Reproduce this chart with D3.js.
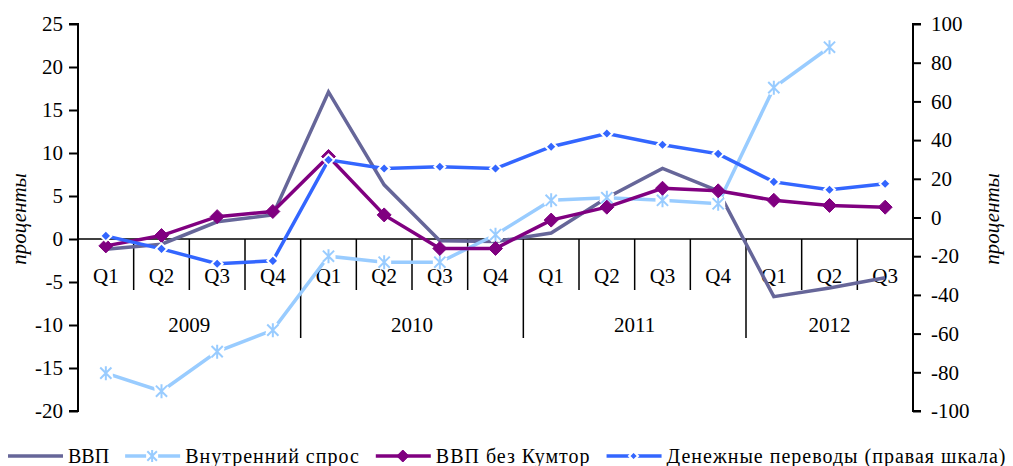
<!DOCTYPE html>
<html>
<head>
<meta charset="utf-8">
<script src="https://cdn.jsdelivr.net/npm/d3@7"></script>
<style>
  body { margin: 0; background: #fff; }
  svg text { font-family: "Liberation Serif", "Times New Roman", serif; fill: #000; }
</style>
</head>
<body>
<div id="chart"></div>
<script>
// quarters and years along the category axis
var quarters = ["Q1","Q2","Q3","Q4","Q1","Q2","Q3","Q4","Q1","Q2","Q3","Q4","Q1","Q2","Q3"]
var years = ["2009","2010","2011","2012"]
var yearSpans = [4, 4, 4, 3]

// series (null = no value)
var gdp = [-1.2, -0.6, 2.0, 2.8, 17.1, 6.3, -0.2, -0.3, 0.7, 4.8, 8.2, 5.6, -6.7, -5.7, -4.5]
var domesticDemand = [-15.6, -17.7, -13.1, -10.6, -2.0, -2.7, -2.7, 0.5, 4.5, 4.8, 4.5, 4.1, 17.6, 22.3, null]
var gdpNoKumtor = [-0.8, 0.4, 2.6, 3.2, 9.6, 2.8, -1.1, -1.1, 2.2, 3.7, 5.9, 5.6, 4.5, 3.9, 3.7]
var remittances = [-9.5, -16.2, -23.9, -22.4, 29.8, 25.3, 26.2, 25.3, 36.6, 43.4, 37.6, 32.9, 18.4, 14.3, 17.4]

var leftTicks = [25, 20, 15, 10, 5, 0, -5, -10, -15, -20]
var rightTicks = [100, 80, 60, 40, 20, 0, -20, -40, -60, -80, -100]

var width = 1013,
    height = 466

// plot box
var pLeft = 78, pRight = 913, pTop = 24, pBottom = 411

var svg = d3.select("#chart")
  .append("svg")
    .attr("width", width)
    .attr("height", height)

var x = d3.scaleBand()
  .domain(d3.range(quarters.length))
  .range([pLeft, pRight])

var yL = d3.scaleLinear().domain([-20, 25]).range([pBottom, pTop])
var yR = d3.scaleLinear().domain([-100, 100]).range([pBottom, pTop])

var fmt = function(d) { return d < 0 ? "-" + Math.abs(d) : d }

// left axis
var axL = svg.append("g")
  .attr("transform", "translate(" + pLeft + ",0)")
  .call(d3.axisLeft(yL).tickValues(leftTicks).tickSize(9).tickPadding(6).tickFormat(fmt))
axL.select(".domain").attr("stroke-width", 2).attr("d", "M-9," + pTop + "H0V" + pBottom + "H-9")
axL.selectAll(".tick line").attr("stroke-width", 2)
axL.selectAll("text").style("font-size", "21px").style("font-family", "Liberation Serif")

// right axis
var axR = svg.append("g")
  .attr("transform", "translate(" + pRight + ",0)")
  .call(d3.axisRight(yR).tickValues(rightTicks).tickSize(8).tickPadding(10).tickFormat(fmt))
axR.select(".domain").attr("stroke-width", 2).attr("d", "M8," + pTop + "H0V" + pBottom + "H8")
axR.selectAll(".tick line").attr("stroke-width", 2)
axR.selectAll("text").style("font-size", "21px").style("font-family", "Liberation Serif")

// category axis on the zero line
var y0 = yL(0)
svg.append("line")
  .attr("x1", pLeft).attr("x2", pRight)
  .attr("y1", y0).attr("y2", y0)
  .attr("stroke", "#000").attr("stroke-width", 1.5)

var yearStarts = []
var acc = 0
yearSpans.forEach(function(n) { yearStarts.push(acc); acc += n })

svg.selectAll(".qsep")
  .data(d3.range(1, quarters.length))
  .enter().append("line")
  .attr("x1", function(i) { return x(i) }).attr("x2", function(i) { return x(i) })
  .attr("y1", y0)
  .attr("y2", function(i) { return yearStarts.indexOf(i) >= 0 ? 338 : 290 })
  .attr("stroke", "#000").attr("stroke-width", 1.5)

svg.selectAll(".qlab")
  .data(quarters)
  .enter().append("text")
  .attr("x", function(d, i) { return x(i) + x.bandwidth() / 2 })
  .attr("y", 283)
  .attr("text-anchor", "middle")
  .style("font-size", "21px")
  .text(function(d) { return d })

svg.selectAll(".ylab")
  .data(years)
  .enter().append("text")
  .attr("x", function(d, i) {
    var a = x(yearStarts[i]), b = x(yearStarts[i] + yearSpans[i] - 1) + x.bandwidth()
    return (a + b) / 2
  })
  .attr("y", 332)
  .attr("text-anchor", "middle")
  .style("font-size", "21px")
  .text(function(d) { return d })

// axis titles
svg.append("text")
  .attr("transform", "translate(26,219) rotate(-90)")
  .attr("text-anchor", "middle")
  .style("font-size", "21px").style("font-style", "italic")
  .text("проценты")
svg.append("text")
  .attr("transform", "translate(999,219) rotate(-90)")
  .attr("text-anchor", "middle")
  .style("font-size", "21px").style("font-style", "italic")
  .text("проценты")

function cx(i) { return x(i) + x.bandwidth() / 2 }

function drawLine(data, y, color) {
  var line = d3.line()
    .defined(function(d) { return d != null })
    .x(function(d, i) { return cx(i) })
    .y(function(d) { return y(d) })
  svg.append("path")
    .datum(data)
    .attr("d", line)
    .attr("fill", "none")
    .attr("stroke", color)
    .attr("stroke-width", 3.5)
    .attr("stroke-linejoin", "miter")
}

function star(g, color, s) {
  var arms = "M0," + (-s) + "V" + s +
          "M" + (-s * 0.8) + "," + (-s * 0.8) + "L" + (s * 0.8) + "," + (s * 0.8) +
          "M" + (-s * 0.8) + "," + (s * 0.8) + "L" + (s * 0.8) + "," + (-s * 0.8)
  g.append("path").attr("d", "M" + (-s) + ",0H" + s + arms)
    .attr("stroke", "#fff").attr("stroke-width", 6).attr("fill", "none")
  g.append("path").attr("d", arms)
    .attr("stroke", color).attr("stroke-width", 2).attr("fill", "none")
}

function diamond(g, color, s, border) {
  g.append("path")
    .attr("d", "M0," + (-s) + "L" + s + ",0L0," + s + "L" + (-s) + ",0Z")
    .attr("fill", color)
    .attr("stroke", border ? "#fff" : color)
    .attr("stroke-width", border ? 2 : 1)
}

// series
drawLine(gdp, yL, "#666699")

drawLine(domesticDemand, yL, "#99CCFF")
domesticDemand.forEach(function(d, i) {
  if (d == null) return
  star(svg.append("g").attr("transform", "translate(" + cx(i) + "," + yL(d) + ")"), "#99CCFF", 7)
})

drawLine(gdpNoKumtor, yL, "#800080")
gdpNoKumtor.forEach(function(d, i) {
  diamond(svg.append("g").attr("transform", "translate(" + cx(i) + "," + yL(d) + ")"), "#800080", 7, false)
})

drawLine(remittances, yR, "#3366FF")
remittances.forEach(function(d, i) {
  diamond(svg.append("g").attr("transform", "translate(" + cx(i) + "," + yR(d) + ")"), "#3366FF", 5.5, true)
})

// legend
var legendItems = [
  {name: "ВВП", color: "#666699", marker: null},
  {name: "Внутренний спрос", color: "#99CCFF", marker: "star"},
  {name: "ВВП без Кумтор", color: "#800080", marker: "diamond"},
  {name: "Денежные переводы (правая шкала)", color: "#3366FF", marker: "small"}
]
var lx = 8, ly = 456
legendItems.forEach(function(it) {
  var g = svg.append("g").attr("transform", "translate(" + lx + "," + ly + ")")
  g.append("line").attr("x1", 0).attr("x2", 55).attr("y1", 0).attr("y2", 0)
    .attr("stroke", it.color).attr("stroke-width", 3.5)
  var m = g.append("g").attr("transform", "translate(27,0)")
  if (it.marker == "star") star(m, it.color, 6)
  if (it.marker == "diamond") diamond(m, it.color, 6, false)
  if (it.marker == "small") diamond(m, it.color, 4.5, true)
  var t = g.append("text").attr("x", 60).attr("y", 7)
    .style("font-size", "20px")
    .style("letter-spacing", it.name.length > 3 ? "1px" : "0px")
    .text(it.name)
  lx += 60 + t.node().getComputedTextLength() + 16
})
</script>
</body>
</html>
